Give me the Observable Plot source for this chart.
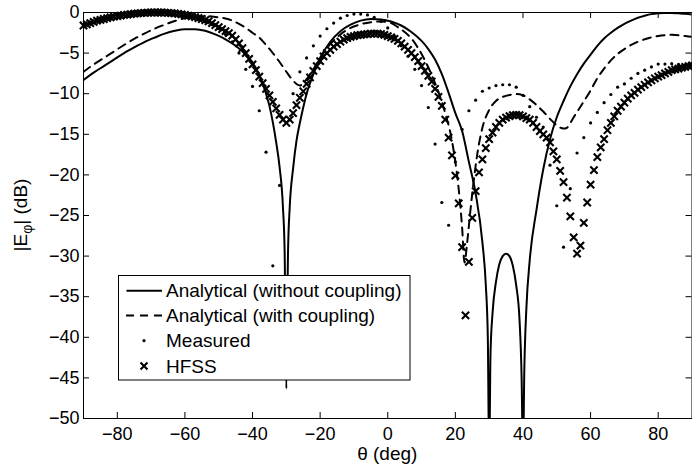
<!DOCTYPE html>
<html><head><meta charset="utf-8">
<script src="https://cdn.jsdelivr.net/npm/d3@7"></script>
<script src="https://cdn.jsdelivr.net/npm/@observablehq/plot@0.6"></script>
<style>body{margin:0;background:#fff}</style>
</head><body><div id="chart"></div>
<script>
// Analytical (without coupling)
const solidTheta = [-90,-87,-84,-81,-78,-75,-72,-69,-66,-63,-60,-57,-54,-51,-48,-45,-42,-40,-38,-36,-35,-34,-33,-32,-31,-30.5,-30,-29.5,-29,-28,-27,-26,-25,-24,-22,-20,-17,-14,-11,-8,-5,-2,1,4,7,10,12,14,16,18,20,22,24,26,28,29,29.6,30,30.4,31,32,33,34,35,36,37,38,39,39.6,40,40.4,41,42,44,46,48,50,52,54,56,58,60,62,64,66,68,70,72,74,76,78,80,82,84,86,88,90];
const solidDb = [-8.3,-7.4,-6.6,-5.8,-5.0,-4.3,-3.65,-3.1,-2.6,-2.25,-2.05,-2.05,-2.25,-2.7,-3.3,-4.1,-5.2,-6.2,-7.7,-10.0,-11.5,-13.5,-16.0,-19.0,-24.0,-29.5,-46.3,-29.5,-24.0,-19.2,-15.8,-13.6,-11.7,-10.0,-7.6,-5.6,-3.6,-2.3,-1.5,-1.0,-0.8,-0.85,-1.1,-1.6,-2.4,-3.5,-4.5,-5.8,-7.6,-9.9,-12.4,-14.6,-18.4,-22.3,-28.3,-33.5,-40,-55,-42,-37,-33.2,-31,-30,-29.7,-30,-31.2,-33.6,-38,-45,-55,-44,-36.5,-30.5,-24.3,-19.3,-15.6,-12.9,-10.9,-9.1,-7.6,-6.3,-5.2,-4.1,-3.2,-2.5,-1.9,-1.4,-1.0,-0.65,-0.4,-0.2,-0.1,-0.05,-0.05,-0.1,-0.15,-0.25];

// Analytical (with coupling)
const dashTheta = [-90,-87,-84,-81,-78,-75,-72,-69,-66,-63,-60,-57,-54,-51,-48,-46,-44,-42,-40,-38,-36,-34,-32,-30,-28,-27,-26,-25,-24,-22,-20,-17,-14,-11,-8,-5,-2,1,3,5,7,9,11,13,15,17,19,20,21,22,22.7,23.5,24.5,25.5,26.5,28,30,32,34,36,38,40,42,44,46,48,50,52,53,54,55,57,60,62,64,66,68,70,72,74,76,78,80,82,84,86,88,90];
const dashDb = [-7.3,-6.4,-5.6,-4.8,-4.0,-3.25,-2.6,-2.0,-1.5,-1.05,-0.7,-0.5,-0.45,-0.55,-0.75,-1.0,-1.4,-1.9,-2.5,-3.1,-4.0,-5.0,-6.1,-7.3,-8.4,-8.8,-9.0,-8.7,-8.2,-7.0,-5.6,-3.9,-2.7,-1.9,-1.45,-1.2,-1.1,-1.3,-1.8,-2.4,-3.2,-4.4,-5.9,-7.7,-9.8,-12.4,-15.8,-18.4,-21.8,-26.5,-30.8,-28.3,-24.2,-20.5,-17.4,-14.2,-12.0,-10.9,-10.4,-10.15,-10.05,-10.2,-10.7,-11.4,-12.2,-13.1,-13.9,-14.3,-14.2,-13.6,-12.9,-11.6,-9.6,-8.1,-6.9,-5.9,-5.1,-4.5,-4.0,-3.6,-3.3,-3.05,-2.9,-2.8,-2.75,-2.8,-2.9,-3.0];

// Measured (every 2 degrees)
const measTheta = d3.range(-90, 91, 2);
const measDb = [-1.5,-1.2,-0.9,-0.7,-0.5,-0.35,-0.25,-0.15,-0.1,-0.05,0,0,0,-0.1,-0.2,-0.35,-0.55,-0.8,-1.1,-1.5,-2.0,-2.7,-3.6,-5.0,-7.0,-9.1,-12.1,-17.2,-31.2,-21.3,-40,-10.0,-7.3,-5.6,-4.1,-2.9,-2.0,-1.3,-0.7,-0.37,-0.2,-0.2,-0.3,-0.6,-1.1,-1.9,-2.9,-4.1,-5.4,-7.0,-9.0,-11.7,-16.2,-23.4,-26.2,-18.4,-14.4,-12.1,-10.8,-9.7,-9.3,-9.0,-8.9,-8.9,-9.2,-10.2,-11.6,-12.9,-14.1,-18.8,-23.8,-28.9,-21.7,-17.3,-15.4,-13.6,-12.3,-11.1,-10.1,-9.2,-8.8,-8.1,-7.5,-7.1,-6.7,-6.35,-6.35,-6.3,-6.4,-6.5,-6.6];

// HFSS (every degree)
const hfssTheta = d3.range(-90, 91, 1);
const hfssDb = [-1.6,-1.45,-1.3,-1.15,-1.0,-0.9,-0.8,-0.7,-0.6,-0.5,-0.45,-0.38,-0.3,-0.25,-0.2,-0.15,-0.1,-0.07,-0.04,-0.02,0,0,0,0,-0.02,-0.04,-0.07,-0.11,-0.16,-0.22,-0.3,-0.38,-0.47,-0.57,-0.68,-0.8,-0.95,-1.1,-1.3,-1.55,-1.8,-2.05,-2.3,-2.55,-2.85,-3.3,-3.8,-4.4,-5.0,-5.7,-6.4,-7.1,-7.9,-8.7,-9.4,-10.2,-11.0,-11.8,-12.6,-13.2,-13.6,-13.2,-12.4,-11.4,-10.5,-9.7,-8.8,-8.0,-7.2,-6.6,-6.0,-5.4,-5.0,-4.6,-4.2,-3.9,-3.6,-3.35,-3.15,-3.0,-2.9,-2.8,-2.75,-2.7,-2.65,-2.6,-2.6,-2.6,-2.65,-2.75,-2.9,-3.05,-3.25,-3.5,-3.8,-4.2,-4.6,-5.0,-5.5,-6.0,-6.6,-7.2,-7.8,-8.5,-9.4,-10.4,-11.5,-13.2,-15.4,-17.6,-20.1,-23.5,-28.9,-37.3,-30.7,-25.3,-22.0,-19.7,-18.1,-16.7,-15.6,-14.8,-14.1,-13.6,-13.2,-12.95,-12.75,-12.65,-12.6,-12.65,-12.8,-13.0,-13.2,-13.6,-14.1,-14.6,-15.0,-15.4,-16.0,-17.1,-18.1,-19.5,-20.9,-22.8,-25.1,-27.7,-29.7,-28.7,-25.9,-23.4,-21.2,-19.4,-17.8,-16.6,-15.6,-14.5,-13.6,-12.8,-12.1,-11.6,-11.1,-10.6,-10.2,-9.9,-9.5,-9.2,-8.9,-8.6,-8.35,-8.1,-7.9,-7.7,-7.5,-7.3,-7.1,-7.0,-6.9,-6.8,-6.7,-6.6,-6.5];

const xTicks = [-80,-60,-40,-20,0,20,40,60,80];
const yTicks = [-50,-45,-40,-35,-30,-25,-20,-15,-10,-5,0];
const legendLabels = ["Analytical (without coupling)","Analytical (with coupling)","Measured","HFSS"];
const xLabel = "θ (deg)";

const solid = solidTheta.map((t,i)=>({t, v: solidDb[i]}));
const dashed = dashTheta.map((t,i)=>({t, v: dashDb[i]}));
const measured = measTheta.map((t,i)=>({t, v: measDb[i]}));
const hfss = hfssTheta.map((t,i)=>({t, v: hfssDb[i]}));

const W = 692, H = 470, mL = 83, mR = 0.5, mT = 12, mB = 52;
const pW = W - mL - mR, pH = H - mT - mB;
const FONT = '"Liberation Sans", Arial, Helvetica, sans-serif';

const chart = Plot.plot({
  width: W, height: H,
  marginLeft: mL, marginRight: mR, marginTop: mT, marginBottom: mB,
  x: {domain: [-90, 90]},
  y: {domain: [-50, 0]},
  style: {fontFamily: FONT, fontSize: "18px", color: "black", background: "white", overflow: "visible"},
  marks: [
    Plot.line(solid, {x: "t", y: "v", stroke: "black", strokeWidth: 2, curve: "monotone-x", clip: true}),
    Plot.line(dashed, {x: "t", y: "v", stroke: "black", strokeWidth: 2, strokeDasharray: "8,6", curve: "monotone-x", clip: true}),
    Plot.dot(measured, {x: "t", y: "v", r: 1.6, fill: "black"}),
    Plot.dot(hfss, {x: "t", y: "v", symbol: "times", r: 3.4, stroke: "black", strokeWidth: 2.1}),
    Plot.ruleX(xTicks, {insetTop: pH - 6, stroke: "black"}),
    Plot.ruleX(xTicks, {insetBottom: pH - 6, stroke: "black"}),
    Plot.ruleY(yTicks, {insetRight: pW - 6, stroke: "black"}),
    Plot.ruleY(yTicks, {insetLeft: pW - 6, stroke: "black"}),
    Plot.axisX({ticks: xTicks, tickSize: 0, tickPadding: 9, label: null, fontSize: 18}),
    Plot.axisY({ticks: yTicks, tickSize: 0, tickPadding: 4, label: null, fontSize: 18}),
    Plot.frame({stroke: "black"})
  ]
});
document.getElementById("chart").appendChild(chart);

const svg = d3.select(chart);
// Legend
const lg = svg.append("g").attr("font-family", FONT).attr("font-size", 19).attr("fill", "black")
  .attr("text-anchor", "start");
lg.append("rect").attr("x", 118.5).attr("y", 275.5).attr("width", 291.5).attr("height", 104.5)
  .attr("fill", "white").attr("stroke", "black").attr("stroke-width", 1);
const rowY = [290.7, 315.5, 340.7, 366];
lg.append("line").attr("x1", 126.5).attr("x2", 162).attr("y1", rowY[0]).attr("y2", rowY[0])
  .attr("stroke", "black").attr("stroke-width", 2);
lg.append("line").attr("x1", 126).attr("x2", 162).attr("y1", rowY[1]).attr("y2", rowY[1])
  .attr("stroke", "black").attr("stroke-width", 2).attr("stroke-dasharray", "8,6");
lg.append("circle").attr("cx", 144).attr("cy", rowY[2]).attr("r", 1.6).attr("fill", "black");
lg.append("path").attr("d", `M140.5,${rowY[3]-3.5}L147.5,${rowY[3]+3.5}M140.5,${rowY[3]+3.5}L147.5,${rowY[3]-3.5}`)
  .attr("stroke", "black").attr("stroke-width", 2.1).attr("fill", "none");
legendLabels.forEach((s, i) => {
  lg.append("text").attr("x", 166).attr("y", rowY[i]).attr("dy", "0.35em")
    .attr("text-anchor", "start").text(s);
});

// Axis labels
svg.append("text").attr("x", mL + pW / 2).attr("y", 460).attr("text-anchor", "middle")
  .attr("font-family", FONT).attr("font-size", 19).attr("fill", "black").text(xLabel);
const yl = svg.append("text").attr("transform", `translate(27,${mT + pH / 2}) rotate(-90)`)
  .attr("text-anchor", "middle").attr("font-family", FONT).attr("font-size", 19).attr("fill", "black");
yl.append("tspan").text("|E");
yl.append("tspan").attr("font-size", 14).attr("dy", "0.35em").text("φ");
yl.append("tspan").attr("dy", "-0.26em").text("| (dB)");
</script>
</body></html>
